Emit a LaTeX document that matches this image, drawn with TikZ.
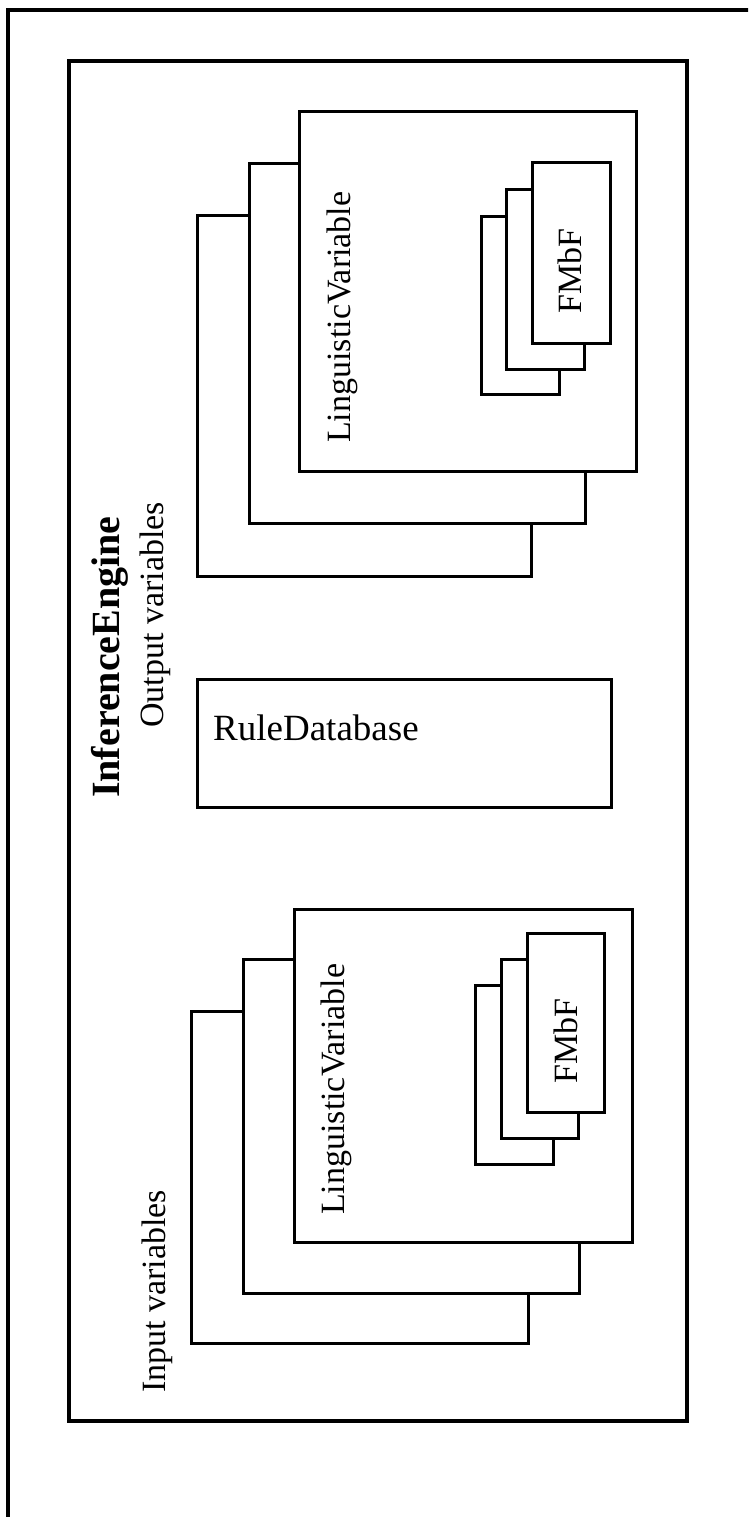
\documentclass[tikz,border=0pt]{standalone}
\usepackage{fontspec}
\setmainfont{Liberation Serif}
\begin{document}
\begin{tikzpicture}[x=1pt,y=-1pt,
  frame/.style={draw=black,line width=3.2pt,line join=miter},
  box/.style={draw=black,fill=white,line width=3pt,line join=miter},
  vlabel/.style={rotate=90,anchor=base west,inner sep=0pt,font=\fontsize{34}{40}\selectfont},
  flabel/.style={rotate=90,anchor=base,inner sep=0pt,font=\fontsize{34}{40}\selectfont},
  title/.style={rotate=90,anchor=base west,inner sep=0pt,font=\fontsize{40}{46}\selectfont\bfseries},
  hlabel/.style={anchor=base west,inner sep=0pt,font=\fontsize{37}{44}\selectfont}]
\useasboundingbox[fill=white] (0,0) rectangle (748,1517);
\begin{scope}
\clip (0,0) rectangle (748,1517);
% page frame, running off the page on the right and at the bottom
\draw[frame] (8,1540) -- (8,10) -- (770,10);
\end{scope}

% inference engine frame
\draw[frame] (69,61) rectangle (687,1421);
\node[title] (engine) at (119,798) {InferenceEngine};
\node[vlabel] (outvars) at (163,728) {Output variables};
\node[vlabel] (invars) at (165,1393) {Input variables};

% output linguistic variables
\draw[box] (197,215) rectangle (531,576);
\draw[box] (249,164) rectangle (585,523);
\draw[box] (299,112) rectangle (636,471);
\node[vlabel] (outlv) at (350,443) {LinguisticVariable};
\draw[box] (481,216) rectangle (559,394);
\draw[box] (506,190) rectangle (584,369);
\draw[box] (532,163) rectangle (610,343);
\node[flabel] (outmf) at (581,271) {FMbF};

% rule database
\draw[box] (197,679) rectangle (611,807);
\node[hlabel] (rules) at (213,740) {RuleDatabase};

% input linguistic variables
\draw[box] (191,1011) rectangle (528,1343);
\draw[box] (243,959) rectangle (579,1293);
\draw[box] (294,909) rectangle (632,1242);
\node[vlabel] (inlv) at (344,1215) {LinguisticVariable};
\draw[box] (475,985) rectangle (553,1164);
\draw[box] (501,959) rectangle (578,1138);
\draw[box] (527,933) rectangle (604,1112);
\node[flabel] (inmf) at (577,1041) {FMbF};
\end{tikzpicture}
\end{document}
